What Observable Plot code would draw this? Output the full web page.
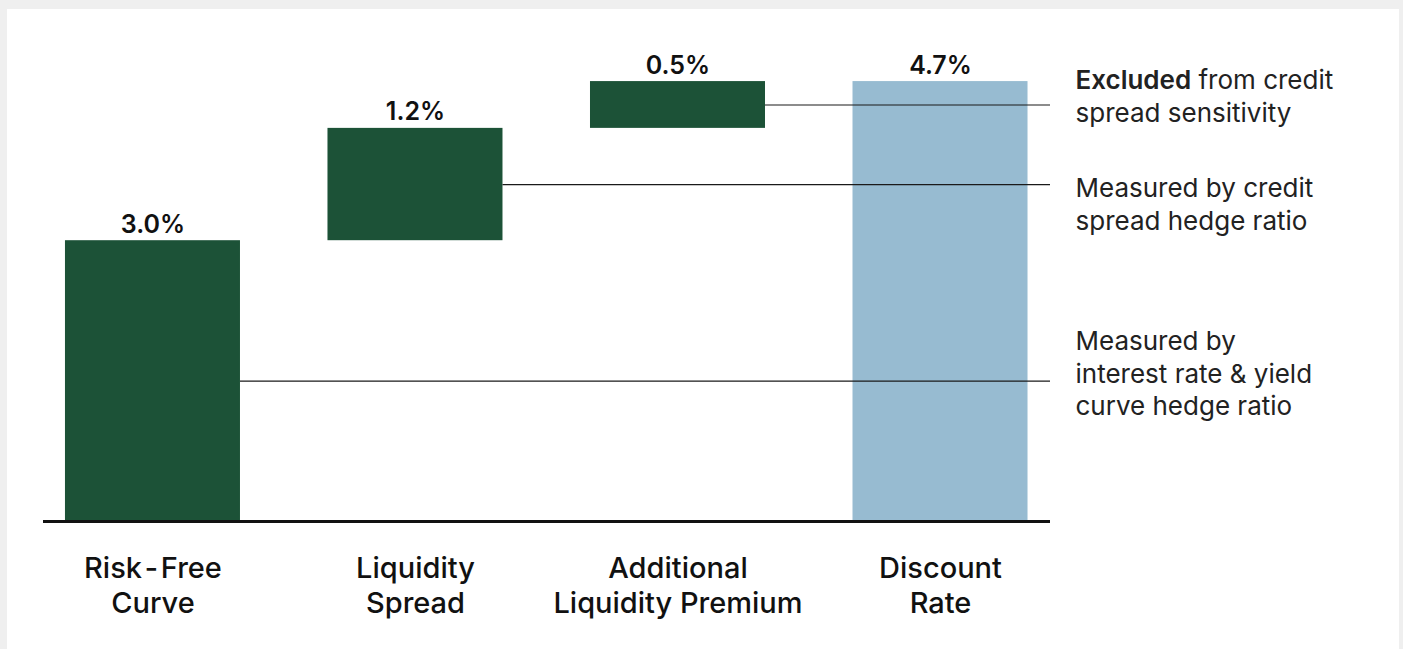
<!DOCTYPE html>
<html><head><meta charset="utf-8">
<script src="https://cdn.jsdelivr.net/npm/d3@7"></script>
<script src="https://cdn.jsdelivr.net/npm/@observablehq/plot@0.6"></script>
<style>
html,body{margin:0;padding:0;background:#efefef;overflow:hidden;}
#panel{position:absolute;left:7px;top:9px;width:1392px;height:640px;background:#fff;}
#panel svg{display:block;}
</style></head><body><div id="panel"></div>
<script>
const categories = ["Risk-Free\nCurve", "Liquidity\nSpread", "Additional\nLiquidity Premium", "Discount\nRate"];
const values = [3.0, 1.2, 0.5, 4.7];
const kinds = ["step", "step", "step", "total"];
const valueLabels = ["3.0%", "1.2%", "0.5%", "4.7%"];
const annotations = [
  "Excluded from credit\nspread sensitivity",
  "Measured by credit\nspread hedge ratio",
  "Measured by\ninterest rate & yield\ncurve hedge ratio"
];

const green = "#1c5237", blue = "#97bbd1";
const half = 1 / 3;
const xDomain = [-0.417, 3.419];
let run = 0;
const rows = values.map((v, i) => {
  let y1, y2;
  if (kinds[i] === "total") { y1 = 0; y2 = v; } else { y1 = run; y2 = run + v; run += v; }
  return {i, label: valueLabels[i], kind: kinds[i], y1, y2, mid: (y1 + y2) / 2};
});
const steps = rows.filter(d => d.kind === "step");
const font = "Inter, 'Noto Sans', sans-serif";
const annDy = [13, 121, 274];

const plot = Plot.plot({
  width: 1392,
  height: 640,
  marginLeft: 36,
  marginRight: 349,
  marginTop: 44,
  marginBottom: 128,
  style: {fontFamily: font, background: "white", color: "#111", overflow: "visible"},
  x: {type: "linear", domain: xDomain, axis: null},
  y: {domain: [0, 5], axis: null},
  marks: [
    Plot.rect(rows, {x1: d => d.i - half, x2: d => d.i + half, y1: "y1", y2: "y2", fill: d => d.kind === "total" ? blue : green}),
    Plot.ruleY(steps, {y: "mid", x1: d => d.i + half, x2: () => xDomain[1], stroke: "#1a1a1a", strokeWidth: 1.2}),
    Plot.ruleY([0], {stroke: "#111", strokeWidth: 3}),
    Plot.text(rows, {x: "i", y: "y2", text: "label", dy: -8, lineAnchor: "bottom", fontSize: 25, fontWeight: 600, fill: "#111"}),
    Plot.axisX({ticks: [0, 1, 2, 3], tickFormat: i => categories[i], tickSize: 0, tickPadding: 32, fontSize: 29, fontWeight: 500, lineHeight: 1.19, fill: "#111", label: null}),
    ...annotations.map((t, k) => Plot.text([t], {frameAnchor: "top-right", dx: 25, dy: annDy[k], textAnchor: "start", lineAnchor: "top", fontSize: 26, lineHeight: 1.24, fill: "#222"}))
  ]
});
document.getElementById("panel").appendChild(plot);

// make "Excluded" bold
plot.querySelectorAll("tspan").forEach(ts => {
  if (ts.textContent === "Excluded from credit") {
    ts.textContent = "";
    const b = document.createElementNS("http://www.w3.org/2000/svg", "tspan");
    b.setAttribute("font-weight", "600");
    b.textContent = "Excluded";
    ts.appendChild(b);
    ts.appendChild(document.createTextNode(" from credit"));
  }
});
</script></body></html>
